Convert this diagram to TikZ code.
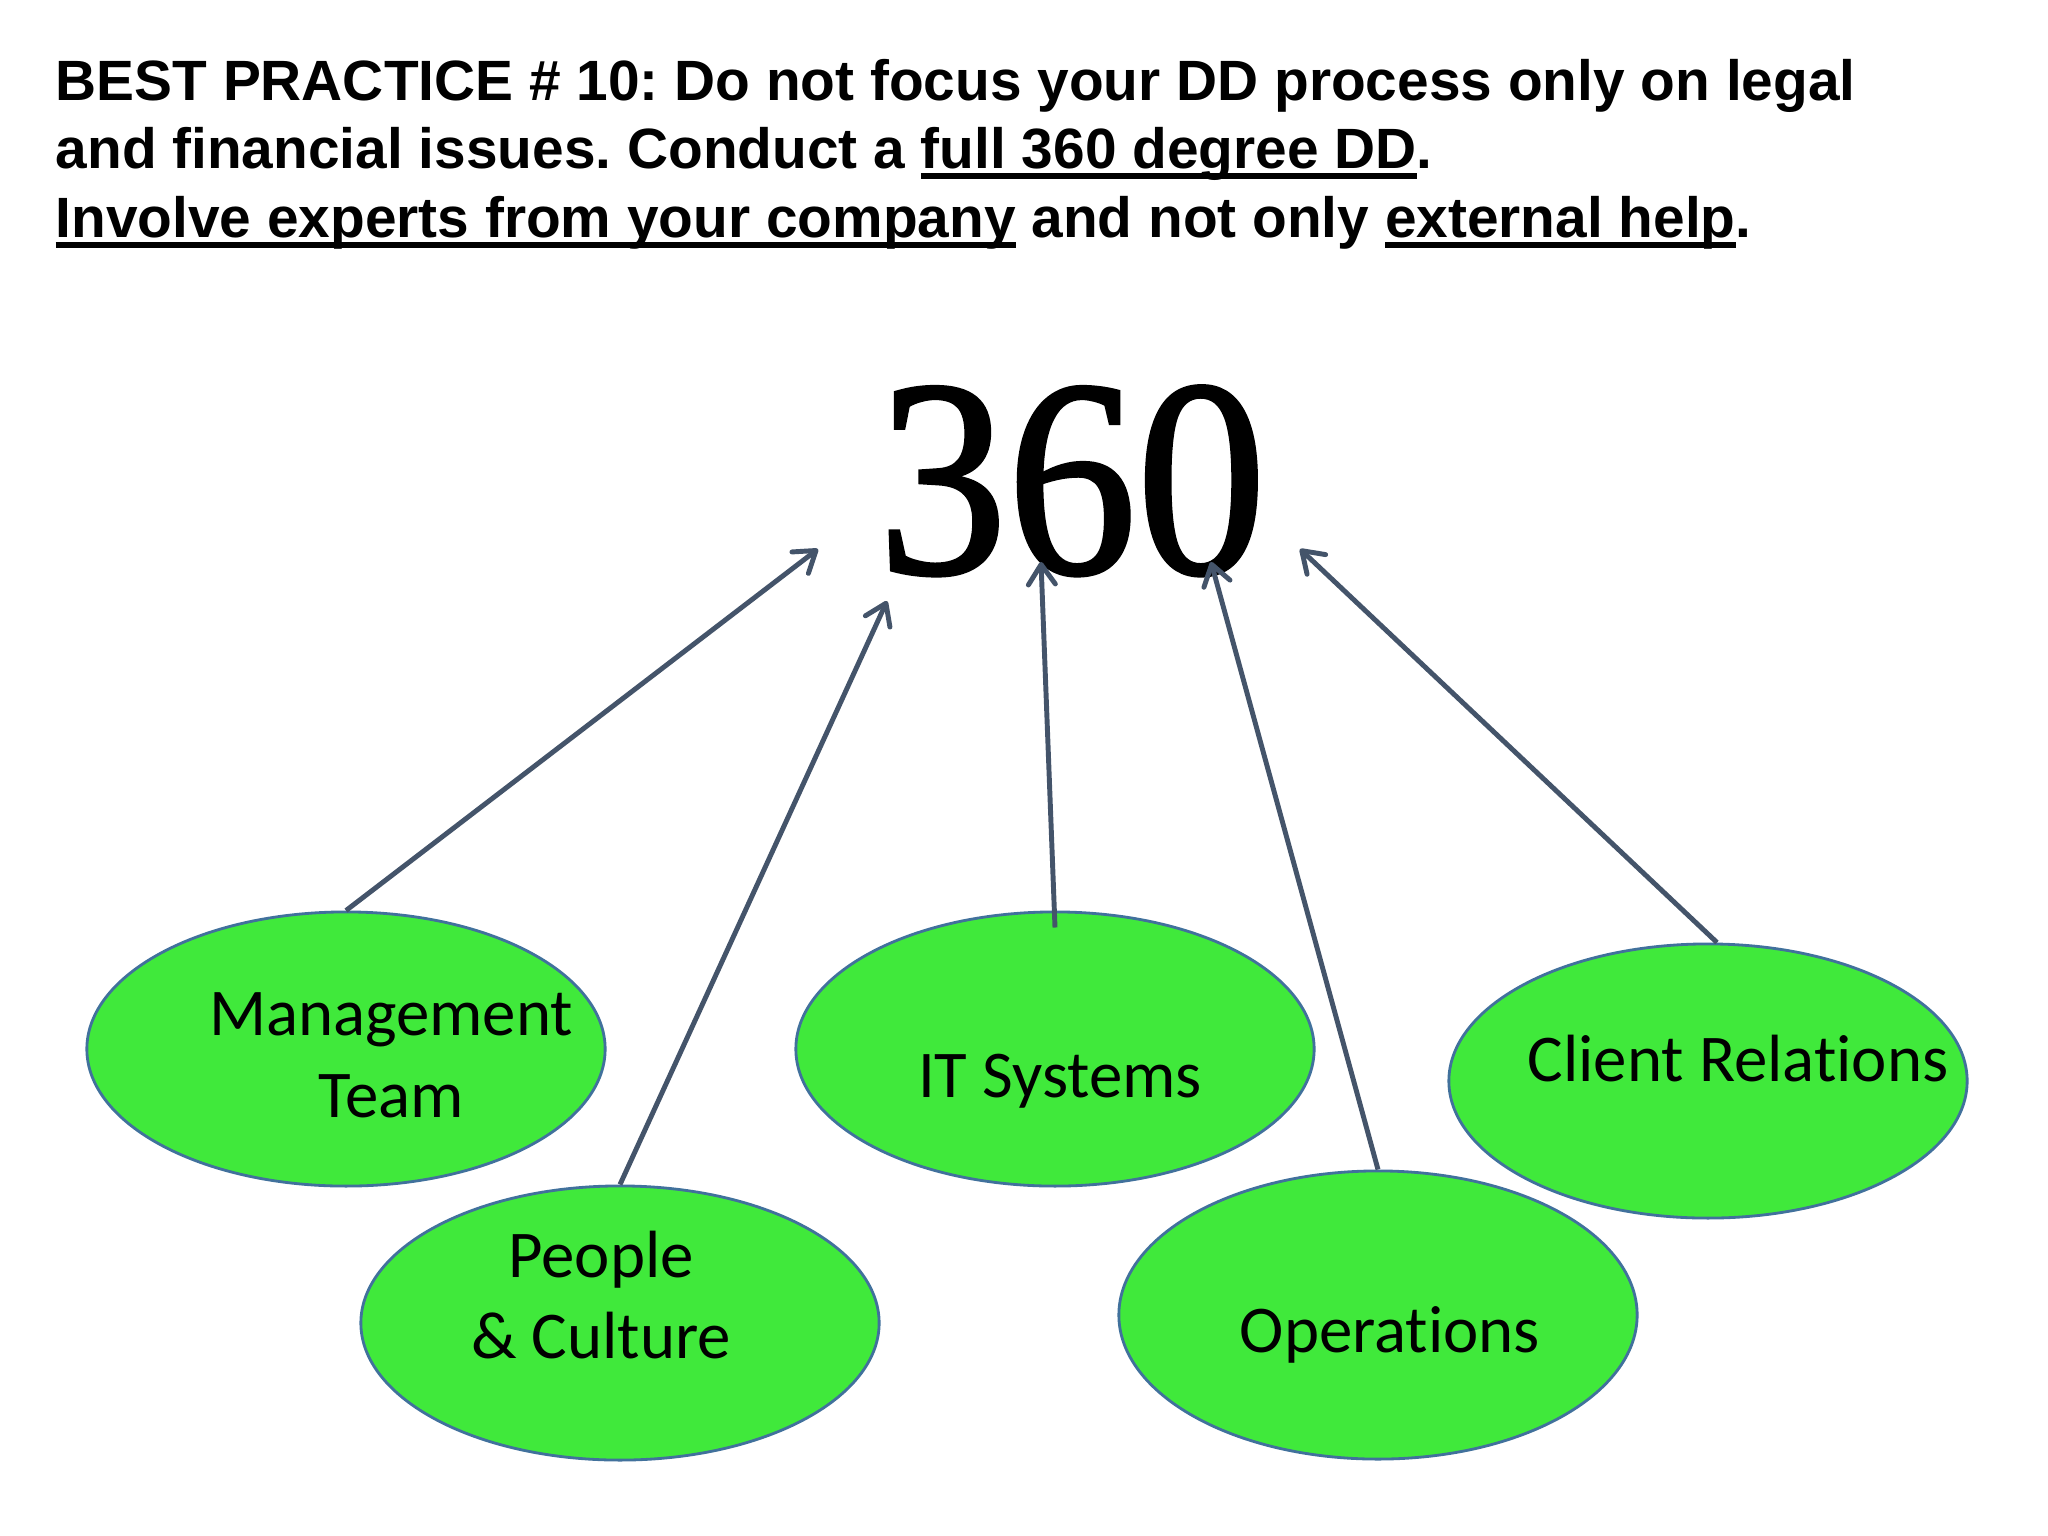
\documentclass[tikz,border=0pt]{standalone}
\usepackage{fontspec}
\usetikzlibrary{arrows.meta,shapes.geometric,calc}
\newfontfamily\titlefont{Liberation Sans}
\newfontfamily\ellfont{Carlito}[Ligatures=CommonOff]
\newfontfamily\numfont{Liberation Serif}[FakeBold=1.3]
\frenchspacing
\newcommand\myul[1]{\setbox0\hbox{#1}\rlap{\rule[-3.1pt]{\wd0}{1.8pt}}\box0\relax}
\definecolor{ellfill}{RGB}{64,233,59}
\definecolor{elldraw}{RGB}{65,113,156}
\definecolor{arrowcol}{RGB}{68,84,106}
\tikzset{
  titleline/.style={anchor=base west,inner sep=0pt,font=\titlefont\bfseries\fontsize{16.16}{19.5}\selectfont},
  bubble/.style={ellipse,draw=elldraw,line width=0.8pt,fill=ellfill,inner sep=0pt,minimum width=5.18cm,minimum height=2.74cm},
  bubbletext/.style={anchor=base,inner sep=0pt,font=\ellfont\fontsize{19}{23}\selectfont},
  link/.style={draw=arrowcol,line width=1.4pt,-{Straight Barb[length=0.2cm,width=0.27cm,line width=1.4pt,round]}}
}
\begin{document}
\begin{tikzpicture}[x=0.01cm,y=-0.01cm]
\useasboundingbox[fill=white] (0,0) rectangle (2048,1536);
% title
\node[titleline] (t1) at (55,100) {BEST PRACTICE \# 10: Do not focus your DD process only on legal};
\node[titleline] (t2) at (55,168.5) {and financial issues. Conduct a \myul{full 360 degree DD}.};
\node[titleline] (t3) at (55,237) {\myul{Involve experts from your company} and not only \myul{external help}.};
% 360
\node[anchor=base,inner sep=0pt] (big) at (1072,573) {\scalebox{0.92}[1]{\numfont\fontsize{80}{80}\selectfont 360}};
% ellipses
\node[bubble] (mt) at (346,1049) {};
\node[bubble] (pc) at (620,1323) {};
\node[bubble] (it) at (1055,1049) {};
\node[bubble,minimum height=2.88cm] (op) at (1378,1315) {};
\node[bubble] (cr) at (1708,1081) {};
% texts
\node[bubbletext] (mt1) at (391,1035) {Management};
\node[bubbletext] (mt2) at (391,1117) {Team};
\node[bubbletext] (pc1) at (601,1277) {People};
\node[bubbletext] (pc2) at (601,1358) {\& Culture};
\node[bubbletext] (it1) at (1060,1097) {IT Systems};
\node[bubbletext] (op1) at (1390,1352) {Operations};
\node[bubbletext] (cr1) at (1738,1081) {Client Relations};
% arrow tips
\coordinate (a1) at (818,549);
\coordinate (a2) at (887,601);
\coordinate (a3) at (1041,562);
\coordinate (a4) at (1211,562);
\coordinate (a5) at (1300,549);
\coordinate (itstart) at ($(it.north)+(0,17)$);
\coordinate (crstart) at ($(cr.north)+(9,0)$);
\draw[link] (mt.north) -- (a1);
\draw[link] (pc.north) -- (a2);
\draw[link] (itstart) -- (a3);
\draw[link] (op.north) -- (a4);
\draw[link] (crstart) -- (a5);
\end{tikzpicture}
\end{document}
